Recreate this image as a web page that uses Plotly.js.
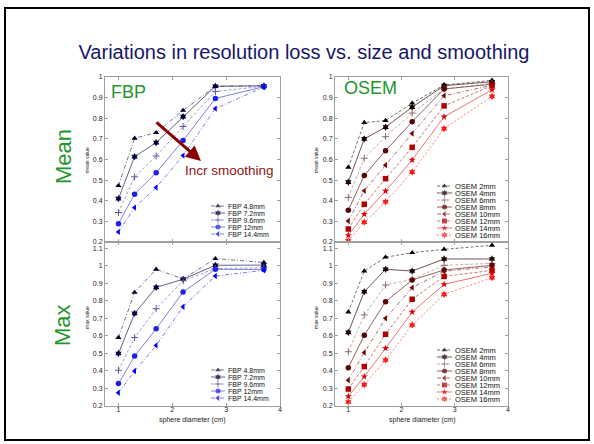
<!DOCTYPE html>
<html>
<head>
<meta charset="utf-8">
<script src="https://cdn.plot.ly/plotly-3.0.1.min.js"></script>
<style>html,body{margin:0;padding:0;background:#fff;}#chart{width:594px;height:444px;}</style>
</head>
<body>
<div id="chart"></div>
<script>
// ---------------- DATA ----------------
const sphereDiam = [1.0, 1.3, 1.7, 2.2, 2.8, 3.7];
const xTickVals = [1, 2, 3, 4];
const xTickText = ['1', '2', '3', '4'];
const yTickValsMean = [0.2, 0.3, 0.4, 0.5, 0.6, 0.7, 0.8, 0.9, 1.0];
const yTickTextMean = ['0.2', '0.3', '0.4', '0.5', '0.6', '0.7', '0.8', '0.9', '1'];
const yTickValsMax = [0.2, 0.3, 0.4, 0.5, 0.6, 0.7, 0.8, 0.9, 1.0, 1.1];
const yTickTextMax = ['0.2', '0.3', '0.4', '0.5', '0.6', '0.7', '0.8', '0.9', '1', '1.1'];

const fbpLabels = ['FBP 4.8mm', 'FBP 7.2mm', 'FBP 9.6mm', 'FBP 12mm', 'FBP 14.4mm'];
const osemLabels = ['OSEM 2mm', 'OSEM 4mm', 'OSEM 6mm', 'OSEM 8mm', 'OSEM 10mm', 'OSEM 12mm', 'OSEM 14mm', 'OSEM 16mm'];

const fbpMean48  = [0.473, 0.703, 0.730, 0.838, 0.955, 0.958];
const fbpMean72  = [0.410, 0.614, 0.682, 0.808, 0.955, 0.957];
const fbpMean96  = [0.343, 0.516, 0.617, 0.760, 0.930, 0.955];
const fbpMean12  = [0.289, 0.432, 0.536, 0.692, 0.896, 0.953];
const fbpMean144 = [0.249, 0.367, 0.464, 0.619, 0.847, 0.951];

const fbpMax48  = [0.591, 0.849, 0.981, 0.926, 1.042, 1.020];
const fbpMax72  = [0.500, 0.729, 0.878, 0.924, 1.004, 1.005];
const fbpMax96  = [0.404, 0.591, 0.756, 0.916, 0.985, 0.990];
const fbpMax12  = [0.328, 0.485, 0.641, 0.851, 0.981, 0.980];
const fbpMax144 = [0.276, 0.400, 0.546, 0.767, 0.943, 0.975];

const osemMean2  = [0.562, 0.779, 0.789, 0.873, 0.961, 0.984];
const osemMean4  = [0.490, 0.700, 0.757, 0.854, 0.958, 0.977];
const osemMean6  = [0.416, 0.606, 0.711, 0.825, 0.942, 0.970];
const osemMean8  = [0.354, 0.523, 0.643, 0.783, 0.942, 0.965];
const osemMean10 = [0.302, 0.448, 0.573, 0.726, 0.909, 0.960];
const osemMean12 = [0.263, 0.383, 0.507, 0.659, 0.860, 0.958];
const osemMean14 = [0.232, 0.335, 0.447, 0.598, 0.807, 0.938];
const osemMean16 = [0.206, 0.296, 0.395, 0.539, 0.750, 0.906];

const osemMax2  = [0.737, 0.971, 1.050, 1.076, 1.095, 1.118];
const osemMax4  = [0.621, 0.853, 0.981, 0.971, 1.040, 1.040];
const osemMax6  = [0.510, 0.720, 0.891, 0.924, 1.004, 1.015];
const osemMax8  = [0.419, 0.604, 0.796, 0.920, 0.977, 1.004];
const osemMax10 = [0.347, 0.505, 0.701, 0.876, 0.970, 0.995];
const osemMax12 = [0.297, 0.425, 0.610, 0.810, 0.940, 0.975];
const osemMax14 = [0.255, 0.368, 0.530, 0.737, 0.895, 0.958];
const osemMax16 = [0.223, 0.322, 0.463, 0.663, 0.838, 0.933];

const titleText = 'Variations in resolution loss vs. size and smoothing';

// ---------------- STYLES ----------------
const DD = '4px,2px,1px,2px', DS = '3px,2px';
const fbpStyles = [
  {c:'#00002a', l:'#50507a', s:'triangle-up', d:DD},
  {c:'#000040', l:'#3a3a66', s:'hexagram', d:'solid'},
  {c:'#5a5a9a', l:'#8888bb', s:'cross-thin-open', d:DS},
  {c:'#2020ee', l:'#6060dd', s:'circle', d:'solid'},
  {c:'#0000ff', l:'#5a5aee', s:'triangle-left', d:DD}
];
const osemStyles = [
  {c:'#000000', l:'#505050', s:'triangle-up', d:DS},
  {c:'#1a0000', l:'#4a2a2a', s:'hexagram', d:'solid'},
  {c:'#8a7070', l:'#b09a9a', s:'cross-thin-open', d:DS},
  {c:'#5a0000', l:'#7a3a3a', s:'circle', d:'solid'},
  {c:'#7a0000', l:'#9a4a4a', s:'triangle-left', d:DD},
  {c:'#b00000', l:'#c85050', s:'square', d:DS},
  {c:'#dd0000', l:'#e65050', s:'star', d:'solid'},
  {c:'#ff1a1a', l:'#ff6060', s:'hexagram', d:'2px,2px'}
];

const W = 594, H = 444;
const px = v => v / W, py = v => 1 - v / H;

const traces = [];
function addSeries(ys, st, xa, ya) {
  const isCross = st.s.indexOf('cross') >= 0;
  traces.push({
    type: 'scatter', mode: 'lines+markers', x: sphereDiam, y: ys, xaxis: xa, yaxis: ya,
    showlegend: false, hoverinfo: 'skip',
    line: {color: st.l, width: 0.8, dash: st.d},
    marker: {symbol: st.s, size: isCross ? 5 : 5.5, color: st.c,
             line: {width: isCross ? 1 : 0, color: st.c}}
  });
}
[fbpMean48, fbpMean72, fbpMean96, fbpMean12, fbpMean144].forEach((s, i) => addSeries(s, fbpStyles[i], 'x', 'y'));
[osemMean2, osemMean4, osemMean6, osemMean8, osemMean10, osemMean12, osemMean14, osemMean16].forEach((s, i) => addSeries(s, osemStyles[i], 'x2', 'y2'));
[fbpMax48, fbpMax72, fbpMax96, fbpMax12, fbpMax144].forEach((s, i) => addSeries(s, fbpStyles[i], 'x3', 'y3'));
[osemMax2, osemMax4, osemMax6, osemMax8, osemMax10, osemMax12, osemMax14, osemMax16].forEach((s, i) => addSeries(s, osemStyles[i], 'x4', 'y4'));

const annotations = [];
// compact legends (MATLAB-style), drawn on a hidden full-page pixel axis
function addLegend(labels, styles, x0, x1, tx, y0, dy, fs) {
  labels.forEach((lab, i) => {
    const st = styles[i];
    const yy = y0 + i * dy;
    const isCross = st.s.indexOf('cross') >= 0;
    traces.push({
      type: 'scatter', mode: 'lines+markers', x: [x0, (x0 + x1) / 2, x1], y: [yy, yy, yy],
      xaxis: 'x5', yaxis: 'y5', showlegend: false, hoverinfo: 'skip',
      line: {color: st.l, width: 0.8, dash: st.d},
      marker: {symbol: st.s, size: [0, 5, 0], color: st.c,
               line: {width: isCross ? 1 : 0, color: st.c}}
    });
    annotations.push({xref: 'x5', yref: 'y5', x: tx, y: yy, text: lab, showarrow: false,
      xanchor: 'left', yanchor: 'middle', font: {family: 'Liberation Sans, Arial', size: fs, color: '#111111'}});
  });
}
addLegend(fbpLabels, fbpStyles, 211, 225, 226, 206, 7, 7);
addLegend(fbpLabels, fbpStyles, 211, 225, 226, 370, 7, 7);
addLegend(osemLabels, osemStyles, 437, 452, 453, 186, 7, 7.5);
addLegend(osemLabels, osemStyles, 437, 452, 453, 350, 7, 7.5);

const green = '#22962a';
const redText = '#8b1414';
const F = 'Liberation Sans, Arial, sans-serif';
annotations.push(
  {xref:'paper', yref:'paper', x:px(63), y:py(157), text:'Mean', textangle:-90, showarrow:false,
   xanchor:'center', yanchor:'middle', font:{family:F, size:22, color:green}},
  {xref:'paper', yref:'paper', x:px(62), y:py(325), text:'Max', textangle:-90, showarrow:false,
   xanchor:'center', yanchor:'middle', font:{family:F, size:22, color:green}},
  {xref:'paper', yref:'paper', x:px(109), y:py(92), text:'FBP', showarrow:false,
   xanchor:'left', yanchor:'middle', font:{family:F, size:18, color:green}},
  {xref:'paper', yref:'paper', x:px(342), y:py(88), text:'OSEM', showarrow:false,
   xanchor:'left', yanchor:'middle', font:{family:F, size:18, color:green}},
  {xref:'paper', yref:'paper', x:px(183), y:py(170), text:'Incr smoothing', showarrow:false,
   xanchor:'left', yanchor:'middle', font:{family:F, size:13.5, color:redText}},
  {xref:'paper', yref:'paper', x:px(201), y:py(161), ax:-46, ay:-40, text:'', showarrow:true,
   arrowhead:2, arrowsize:1, arrowwidth:3, arrowcolor:'#8b0000'},
  // axis titles
  {xref:'paper', yref:'paper', x:px(87), y:py(160), text:'mean value', textangle:-90, showarrow:false,
   xanchor:'center', yanchor:'middle', font:{family:F, size:5, color:'#222'}},
  {xref:'paper', yref:'paper', x:px(316), y:py(160), text:'mean value', textangle:-90, showarrow:false,
   xanchor:'center', yanchor:'middle', font:{family:F, size:5, color:'#222'}},
  {xref:'paper', yref:'paper', x:px(87), y:py(318), text:'max value', textangle:-90, showarrow:false,
   xanchor:'center', yanchor:'middle', font:{family:F, size:5, color:'#222'}},
  {xref:'paper', yref:'paper', x:px(316), y:py(318), text:'max value', textangle:-90, showarrow:false,
   xanchor:'center', yanchor:'middle', font:{family:F, size:5, color:'#222'}},
  {xref:'paper', yref:'paper', x:px(192), y:py(419.5), text:'sphere diameter (cm)', showarrow:false,
   xanchor:'center', yanchor:'middle', font:{family:F, size:7, color:'#222'}},
  {xref:'paper', yref:'paper', x:px(422), y:py(419.5), text:'sphere diameter (cm)', showarrow:false,
   xanchor:'center', yanchor:'middle', font:{family:F, size:7, color:'#222'}}
);

const axisCommon = {
  showline: true, linecolor: '#a0a0a0', linewidth: 1, mirror: 'ticks',
  ticks: 'inside', ticklen: 3, tickcolor: '#a0a0a0', tickwidth: 1,
  showgrid: false, zeroline: false, fixedrange: true,
  tickfont: {family: F, size: 7, color: '#222'}
};
const xL = [px(105), px(280)], xR = [px(335), px(508)];
const yT = [py(242), py(77)], yB = [py(406), py(242)];
function xa(dom, anchor, labels) {
  return Object.assign({}, axisCommon, {domain: dom, anchor: anchor, range: [0.75, 4],
    tickmode: 'array', tickvals: xTickVals, ticktext: xTickText, showticklabels: labels,
    ticklabelstandoff: -3});
}
function ya(dom, anchor, rng, tv, tt) {
  return Object.assign({}, axisCommon, {domain: dom, anchor: anchor, range: rng,
    tickmode: 'array', tickvals: tv, ticktext: tt});
}

const layout = {
  width: W, height: H, margin: {l: 0, r: 0, t: 0, b: 0},
  paper_bgcolor: '#fff', plot_bgcolor: 'rgba(0,0,0,0)',
  title: {text: titleText, x: px(304), y: py(52), xref: 'paper', yref: 'paper',
          xanchor: 'center', yanchor: 'middle', font: {family: F, size: 20, color: '#16166a'}},
  xaxis: xa(xL, 'y', false),
  yaxis: ya(yT, 'x', [0.2, 1.0], yTickValsMean, yTickTextMean),
  xaxis2: xa(xR, 'y2', false),
  yaxis2: ya(yT, 'x2', [0.2, 1.0], yTickValsMean, yTickTextMean),
  xaxis3: xa(xL, 'y3', true),
  yaxis3: ya(yB, 'x3', [0.2, 1.137], yTickValsMax, yTickTextMax),
  xaxis4: xa(xR, 'y4', true),
  yaxis4: ya(yB, 'x4', [0.2, 1.137], yTickValsMax, yTickTextMax),
  xaxis5: {domain: [0, 1], range: [0, W], visible: false, anchor: 'y5', fixedrange: true},
  yaxis5: {domain: [0, 1], range: [H, 0], visible: false, anchor: 'x5', fixedrange: true},
  annotations: annotations,
  shapes: [{type: 'rect', xref: 'paper', yref: 'paper', x0: px(5), x1: px(589), y0: py(440), y1: py(8),
            line: {color: '#000', width: 2}}]
};

Plotly.newPlot('chart', traces, layout, {displayModeBar: false, staticPlot: true});
</script>
</body>
</html>
